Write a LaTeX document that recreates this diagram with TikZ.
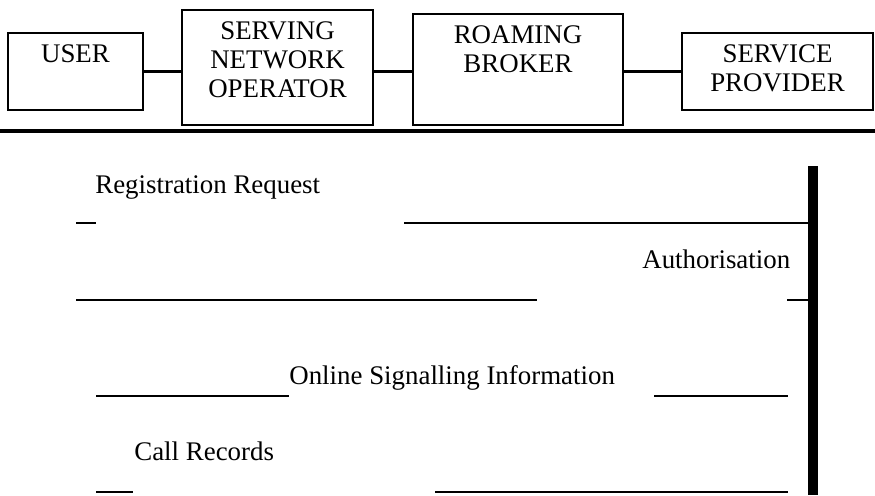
\documentclass[tikz,border=0pt]{standalone}
\usepackage{fontspec}
\setmainfont{Liberation Serif}
\usepackage{tikz}
\usetikzlibrary{positioning}

\begin{document}
\begin{tikzpicture}[
    party/.style={rectangle, draw, line width=0.6pt, inner sep=0pt},
    partytext/.style={align=center, inner sep=0pt, font=\fontsize{15.3pt}{16.6pt}\selectfont},
    link/.style={line width=1.2pt},
    msgline/.style={line width=1.1pt},
    msglabel/.style={inner sep=0pt, anchor=base west, font=\fontsize{15.3pt}{16.4pt}\selectfont}
]
\useasboundingbox (0,0) rectangle (17.5,9.9);

% Parties
\node[party, minimum width=2.70cm, minimum height=1.54cm] (user) at (1.51, 8.47) {};
\node[party, minimum width=3.82cm, minimum height=2.30cm] (sno) at (5.55, 8.55) {};
\node[party, minimum width=4.20cm, minimum height=2.22cm] (broker) at (10.36, 8.51) {};
\node[party, minimum width=3.82cm, minimum height=1.54cm] (provider) at (15.55, 8.47) {};

\node[partytext, below=0.23cm of user.north] (usertext) {USER};
\node[partytext, below=0.23cm of sno.north] (snotext) {SERVING\\NETWORK\\OPERATOR};
\node[partytext, below=0.23cm of broker.north] (brokertext) {ROAMING\\BROKER};
\node[partytext, below=0.23cm of provider.north] (providertext) {SERVICE\\PROVIDER};

% Links
\draw[link] (user.east) -- (user.east -| sno.west);
\draw[link] (sno.east |- user.east) -- (broker.west |- user.east);
\draw[link] (broker.east |- user.east) -- (provider.west);

% Separator and bar
\draw[line width=0.08cm] (0, 7.28) -- (17.5, 7.28);
\node[fill, minimum width=0.2cm, minimum height=6.58cm, inner sep=0pt] (bar) at (16.26, 3.29) {};

% Messages
\node[msglabel] (reg) at (1.90, 6.02) {Registration Request};
\node[msglabel] (auth) at (12.84, 4.52) {Authorisation};
\node[msglabel] (online) at (5.78, 2.22) {Online Signalling Information};
\node[msglabel] (call) at (2.68, 0.70) {Call Records};

\coordinate (regA) at (1.52, 5.44);
\coordinate (regB) at (1.92, 5.44);
\coordinate (regC) at (8.08, 5.44);
\draw[msgline] (regA) -- (regB);
\draw[msgline] (regC) -- (regC -| bar.west);

\coordinate (authA) at (1.52, 3.90);
\coordinate (authB) at (10.74, 3.90);
\coordinate (authC) at (15.74, 3.90);
\draw[msgline] (authA) -- (authB);
\draw[msgline] (authC) -- (authC -| bar.west);

\coordinate (onlineA) at (1.92, 1.98);
\coordinate (onlineC) at (13.08, 1.98);
\coordinate (onlineD) at (15.76, 1.98);
\draw[msgline] (onlineA) -- (onlineA -| online.west);
\draw[msgline] (onlineC) -- (onlineD);

\coordinate (callA) at (1.92, 0.06);
\coordinate (callB) at (2.66, 0.06);
\coordinate (callC) at (8.70, 0.06);
\coordinate (callD) at (15.76, 0.06);
\draw[msgline] (callA) -- (callB);
\draw[msgline] (callC) -- (callD);

\end{tikzpicture}
\end{document}
